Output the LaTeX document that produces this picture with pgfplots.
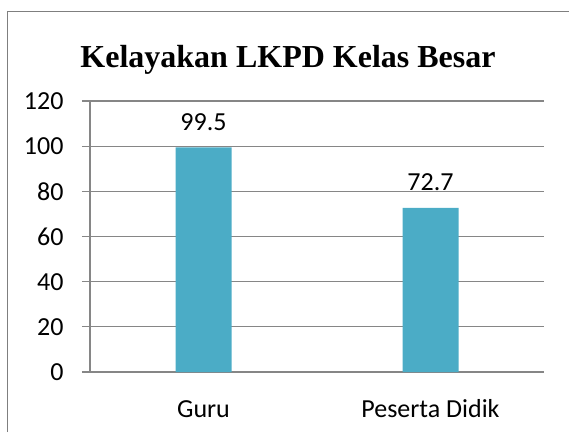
\documentclass[border=0pt]{standalone}
\usepackage{pgfplots}
\pgfplotsset{compat=1.18}
\usepackage{fontspec}
\setmainfont{Carlito}
\newfontfamily\titlefont{Liberation Serif}
\definecolor{barc}{HTML}{4BACC6}
\definecolor{gridc}{HTML}{868686}
\definecolor{framec}{HTML}{7F7F7F}
\begin{document}
\begin{tikzpicture}[x=1bp,y=1bp]
\path[use as bounding box] (-90,-60) rectangle (479,372);
\draw[framec, line width=1.5bp] (-82.5,-60) -- (-82.5,360.5) -- (479,360.5);
\node[anchor=base, font=\titlefont\fontsize{32bp}{38bp}\selectfont\bfseries] at (198,305) {Kelayakan LKPD Kelas Besar};
\begin{axis}[
  at={(0,0)}, anchor=south west,
  scale only axis, width=454bp, height=271bp,
  xmin=-0.5, xmax=1.5, ymin=0, ymax=120,
  axis x line*=bottom, axis y line*=left,
  axis line style={gridc, line width=1.3bp},
  xtick={0,1}, xticklabels={Guru,Peserta Didik},
  minor xtick={-0.5,0.5,1.5},
  ytick={0,20,40,60,80,100,120},
  yticklabels={0,20,40,60,80,100,120},
  tick align=outside,
  major tick length=8bp,
  minor tick length=8bp,
  xtick style={draw=none},
  minor x tick style={gridc, line width=1.3bp},
  ytick style={gridc, line width=1.3bp},
  ymajorgrids,
  major grid style={gridc, line width=1.3bp},
  tick label style={font=\fontsize{26bp}{30bp}\selectfont, text=black},
  yticklabel style={anchor=east, xshift=-15bp},
  xticklabel style={anchor=base, yshift=-37bp},
  clip=false,
]
\addplot[ybar, bar width=56bp, fill=barc, draw=none,
  nodes near coords, point meta=explicit symbolic,
  every node near coord/.append style={font=\fontsize{26bp}{30bp}\selectfont, anchor=base, inner sep=0pt, yshift=17bp, text=black}]
  coordinates {(0,99.5) [99.5] (1,72.7) [72.7]};
\end{axis}
\end{tikzpicture}
\end{document}
